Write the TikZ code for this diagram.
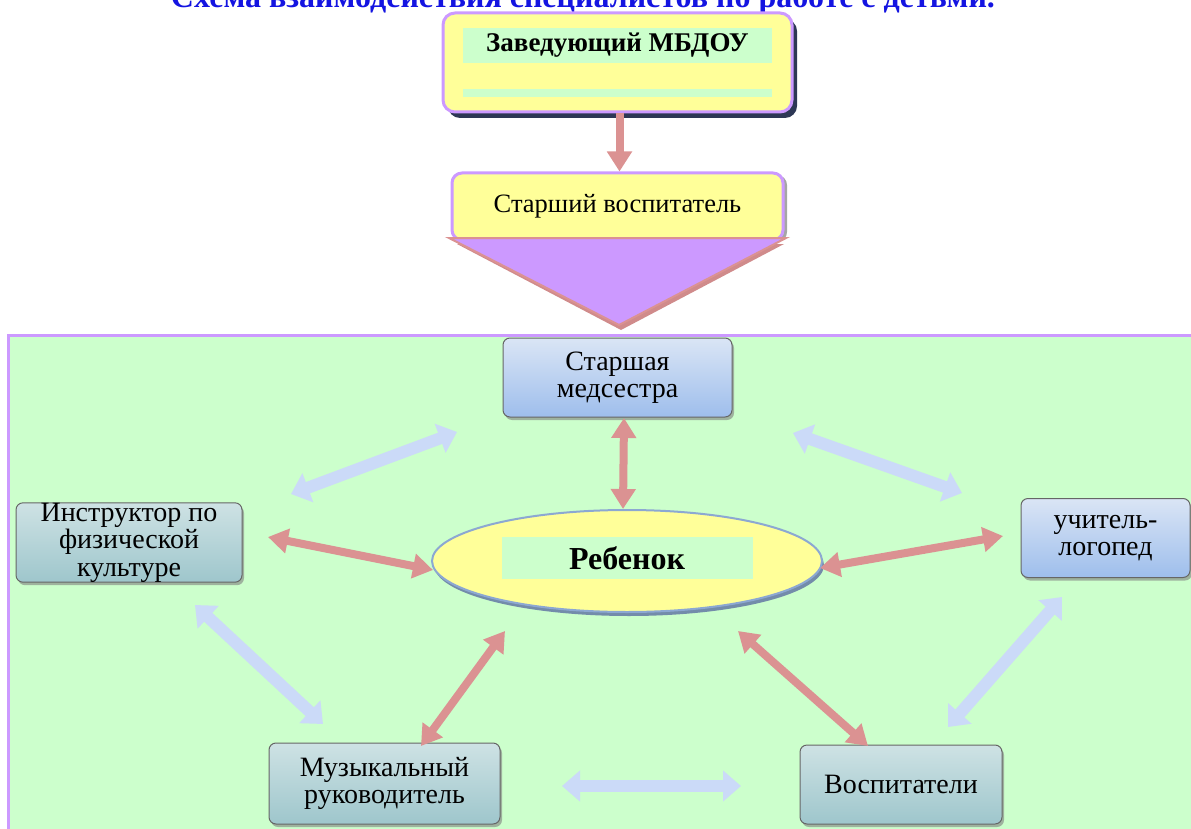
\documentclass[tikz,border=0pt]{standalone}
\usepackage{fontspec}
\setmainfont{Liberation Serif}
\usetikzlibrary{arrows.meta,shapes.geometric,shadows}
\definecolor{titleblue}{RGB}{20,20,225}
\definecolor{lemon}{RGB}{255,255,153}
\definecolor{lilac}{RGB}{204,153,255}
\definecolor{mint}{RGB}{204,255,204}
\definecolor{rosy}{RGB}{219,146,146}
\definecolor{pale}{RGB}{203,218,248}
\definecolor{bluetop}{RGB}{218,229,245}
\definecolor{bluebot}{RGB}{158,190,236}
\definecolor{tealtop}{RGB}{206,226,228}
\definecolor{tealbot}{RGB}{158,198,204}
\begin{document}
\begin{tikzpicture}[x=1pt,y=-1pt,>={Triangle[width=24pt,length=20pt]},
  box/.style={draw=black!60,line width=1pt,rounded corners=7pt,minimum height=79pt,inner sep=0pt,align=center,
    font=\fontsize{28}{27.5}\selectfont,drop shadow={shadow xshift=2pt,shadow yshift=-3pt,fill=black!50,opacity=.6}},
  bluebox/.style={box,top color=bluetop,bottom color=bluebot},
  tealbox/.style={box,top color=tealtop,bottom color=tealbot},
  redarr/.style={draw=rosy,line width=8pt},
  softarr/.style={draw=pale,line width=12pt,{Triangle[width=30pt,length=18pt]}-{Triangle[width=30pt,length=18pt]}}]
\useasboundingbox (0,0) rectangle (1191,829);
\clip (0,0) rectangle (1191,829);
\node[anchor=base,font=\fontsize{32}{32}\selectfont\bfseries,text=titleblue] (title) at (583,8) {Схема взаимодействия специалистов по работе с детьми.};
% top of the scheme
\node[draw=lilac,line width=3pt,fill=lemon,rounded corners=12pt,minimum width=349pt,minimum height=99pt,
  drop shadow={shadow xshift=5pt,shadow yshift=-6pt,fill={rgb,255:red,45;green,55;blue,85},opacity=1}] (boss) at (617.5,62.5) {};
\node[fill=mint,minimum width=309pt,minimum height=35pt,inner sep=0pt,font=\fontsize{27}{27}\selectfont\bfseries] (bosstxt) at (617.5,45.5) {Заведующий МБДОУ};
\fill[mint] (463,89) rectangle (772,97);
\node[draw=lilac,line width=3pt,fill=lemon,rounded corners=10pt,minimum width=331pt,minimum height=67pt,font=\fontsize{26.5}{26.5}\selectfont,
  drop shadow={shadow xshift=4pt,shadow yshift=-2pt,fill=black!35,opacity=1}] (senior) at (617.5,206.5) {Старший воспитатель};
\draw[redarr,->] ([xshift=2pt]boss.south) -- ([xshift=2pt]senior.north);
\fill[rosy!95!black] (457,244) -- (784,244) -- (621,330) -- cycle;
\draw[rosy,line width=2pt,fill=lilac] (449,238) -- (786,238) -- (619,325) -- cycle;
% green field
\draw[lilac,line width=3pt,fill=mint] (8,335) rectangle (1210,850);
\node[bluebox,minimum width=229pt] (nurse) at (617.5,377.5) {Старшая\\медсестра};
\node[tealbox,minimum width=226pt] (sport) at (129,542.5) {Инструктор по\\физической\\культуре};
\node[bluebox,minimum width=169pt] (speech) at (1105.5,538) {учитель-\\логопед};
\node[tealbox,minimum width=231pt,minimum height=81pt] (music) at (384.5,783.5) {Музыкальный\\руководитель};
\node[tealbox,minimum width=202pt] (tutors) at (901,784.5) {Воспитатели};
\node[ellipse,draw={rgb,255:red,140;green,168;blue,210},line width=2pt,fill=lemon,minimum width=390pt,minimum height=102pt,
  drop shadow={shadow xshift=2pt,shadow yshift=-4pt,fill={rgb,255:red,115;green,140;blue,170},opacity=1}] (child) at (627,561) {};
\node[fill=mint,minimum width=251pt,minimum height=42pt,inner sep=0pt,font=\fontsize{32}{32}\selectfont\bfseries] (childtxt) at (627,558) {Ребенок};
% links to the child
\coordinate (n1) at (624,418); \coordinate (c1) at (623,509);
\coordinate (s1) at (268,537); \coordinate (c2) at (433,570);
\coordinate (l1) at (1003,536); \coordinate (c3) at (820,568);
\coordinate (m1) at (421,746); \coordinate (c4) at (505,631);
\coordinate (t1) at (868,746); \coordinate (c5) at (738,631);
\draw[redarr,<->] (n1) -- (c1);
\draw[redarr,<->] (s1) -- (c2);
\draw[redarr,<->] (l1) -- (c3);
\draw[redarr,<->] (m1) -- (c4);
\draw[redarr,<->] (t1) -- (c5);
% links around
\coordinate (a1) at (291,494); \coordinate (a2) at (457,432);
\coordinate (b1) at (793,433); \coordinate (b2) at (962,493);
\coordinate (d1) at (1062,597); \coordinate (d2) at (948,727);
\coordinate (e1) at (195,605); \coordinate (e2) at (323,724);
\coordinate (f1) at (562,786); \coordinate (f2) at (741,786);
\draw[softarr] (a1) -- (a2);
\draw[softarr] (b1) -- (b2);
\draw[softarr] (d1) -- (d2);
\draw[softarr] (e1) -- (e2);
\draw[softarr] (f1) -- (f2);
\end{tikzpicture}
\end{document}
